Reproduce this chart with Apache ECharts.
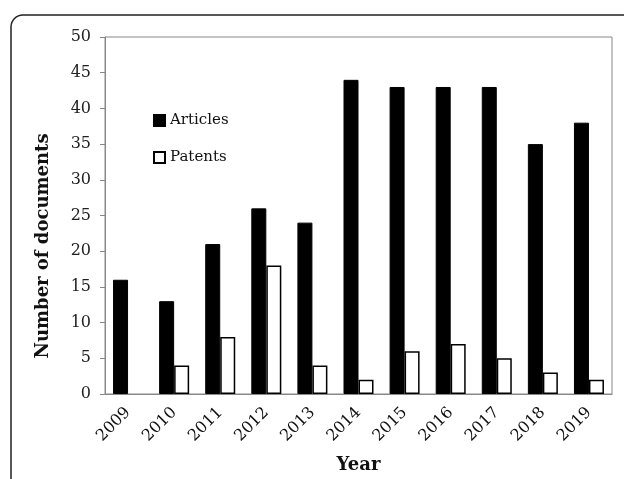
<!DOCTYPE html>
<html><head><meta charset="utf-8">
<script src="https://cdn.jsdelivr.net/npm/echarts@6/dist/echarts.min.js"></script>
<style>html,body{margin:0;padding:0;background:#fff}#c{width:624px;height:479px}</style>
</head><body><div id="c"></div>
<script>
var years = ['2009','2010','2011','2012','2013','2014','2015','2016','2017','2018','2019'];
var articles = [16,13,21,26,24,44,43,43,43,35,38];
var patents = [0,4,8,18,4,2,6,7,5,3,2];
var yTicks = {min:0, max:50, interval:5};
var yTitle = 'Number of documents';
var xTitle = 'Year';
var serif = '"DejaVu Serif", "Liberation Serif", serif';
var chart = echarts.init(document.getElementById('c'));
chart.setOption({
  backgroundColor:'#fff',
  animation:false,
  graphic:[
    {type:'rect', shape:{x:11,y:15,width:700,height:600,r:12}, style:{fill:'none',stroke:'#222',lineWidth:1.5}, z:-1},
    {type:'text', x:43, y:246, rotation:Math.PI/2,
      style:{text:yTitle, fontFamily:serif, fontSize:18, fontWeight:'bold', fill:'#111', align:'center', verticalAlign:'middle'}}
  ],
  grid:{left:105,right:12,top:37,bottom:82,show:true,borderColor:'#888',borderWidth:1},
  legend:{orient:'vertical', left:148, top:108, itemGap:22, itemWidth:11, itemHeight:11,
    textStyle:{fontFamily:serif,fontSize:15,color:'#111'},
    data:[{name:'Articles',icon:'rect'},{name:'Patents',icon:'rect'}]},
  xAxis:{type:'category', data:years, name:xTitle, nameLocation:'middle', nameGap:62,
    nameTextStyle:{fontFamily:serif,fontSize:18,fontWeight:'bold',color:'#111'},
    axisLine:{lineStyle:{color:'#888'}}, axisTick:{show:false},
    axisLabel:{rotate:45, fontFamily:serif, fontSize:16, color:'#111', margin:16}},
  yAxis:{type:'value', min:yTicks.min, max:yTicks.max, interval:yTicks.interval,
    axisLine:{show:true,lineStyle:{color:'#888'}}, axisTick:{show:true,inside:false,length:5,lineStyle:{color:'#888'}},
    splitLine:{show:false},
    axisLabel:{fontFamily:serif,fontSize:16,color:'#222',margin:14}},
  series:[
    {name:'Articles', type:'bar', data:articles.map(function(v){return v===0?null:v;}), barWidth:15, barGap:'0%',
      itemStyle:{color:'#000', borderColor:'#000', borderWidth:1}},
    {name:'Patents', type:'bar', data:patents.map(function(v){return v===0?null:v;}), barWidth:15,
      itemStyle:{color:'#fff', borderColor:'#000', borderWidth:1.5}}
  ]
});
</script></body></html>
